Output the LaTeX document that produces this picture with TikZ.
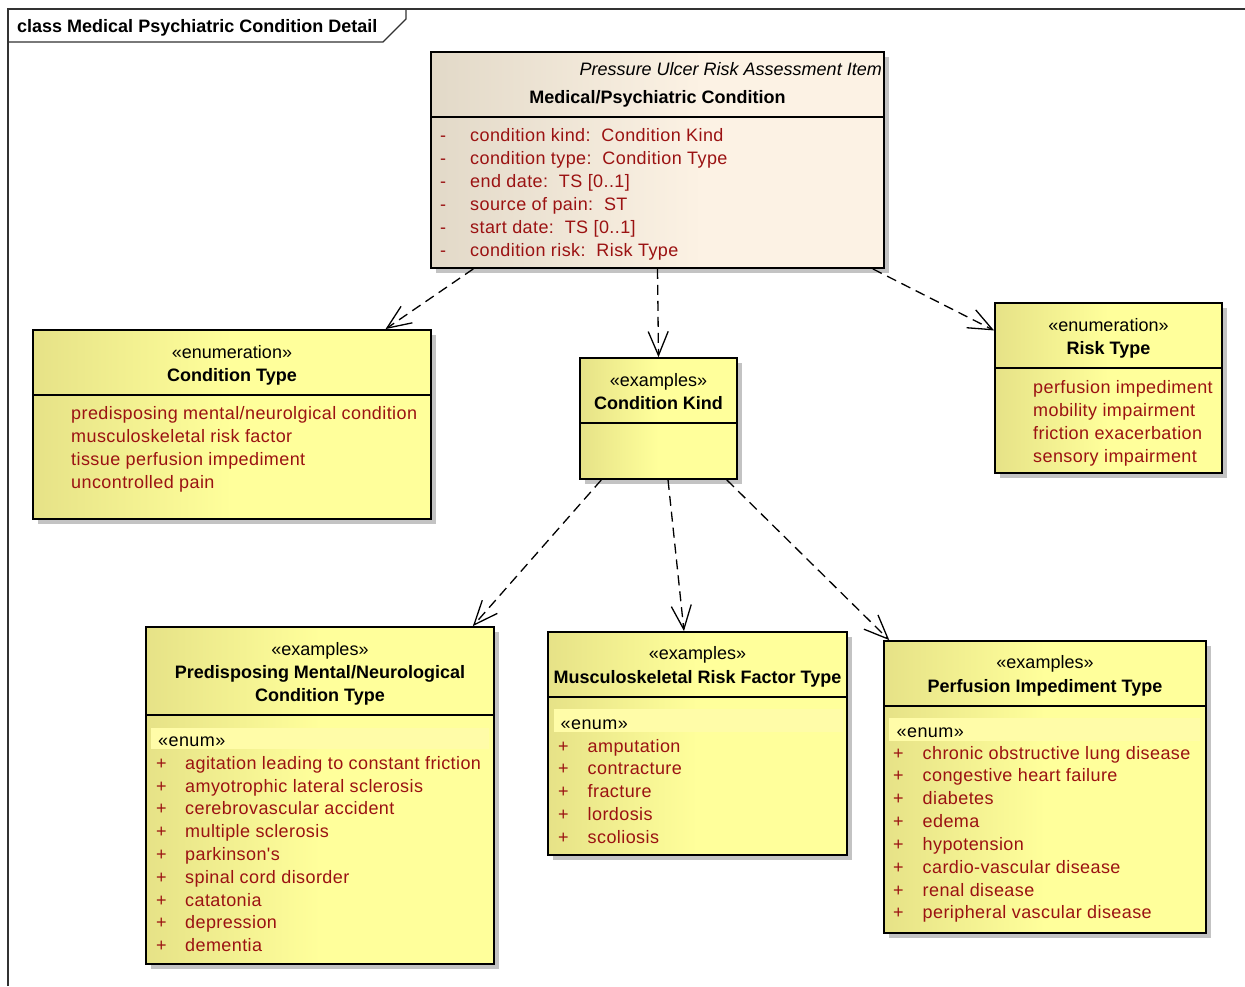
\documentclass[tikz,border=0pt]{standalone}
\usepackage{fontspec}
\setmainfont{Liberation Sans}
\newfontfamily\memfont[LetterSpace=2.3]{Liberation Sans}
\usetikzlibrary{arrows.meta,calc}
\definecolor{memred}{RGB}{155,18,18}
\definecolor{yelL}{RGB}{230,226,135}
\definecolor{yelR}{RGB}{255,255,155}
\definecolor{begL}{RGB}{226,217,200}
\definecolor{begR}{RGB}{252,242,228}
\definecolor{bandY}{RGB}{255,252,168}
\definecolor{shadowgrey}{RGB}{195,195,195}
\definecolor{framegrey}{RGB}{50,50,50}
\pgfdeclarehorizontalshading{eaYellow}{100bp}{color(0bp)=(yelL); color(25bp)=(yelL); color(50bp)=(yelR); color(100bp)=(yelR)}
\pgfdeclarehorizontalshading{eaBeige}{100bp}{color(0bp)=(begL); color(25bp)=(begL); color(55bp)=(begR); color(100bp)=(begR)}
\tikzset{
  umlbox/.style={draw=black, line width=1.8pt, inner sep=0pt, shading=eaYellow, rectangle},
  divider/.style={draw=black, line width=1.8pt},
  shadowbox/.style={fill=shadowgrey},
  band/.style={fill=bandY},
  dep/.style={draw=black, line width=1.3pt, dash pattern=on 10pt off 6pt,
    -{Straight Barb[length=24pt,width=20pt,line width=1.3pt]}},
  frameline/.style={draw=framegrey, line width=1.4pt},
  stereo/.style={inner sep=0pt, anchor=base, font=\fontsize{18}{22}\selectfont, text=black},
  title/.style={inner sep=0pt, anchor=base, font=\fontsize{18}{22}\selectfont\bfseries, text=black},
  mem/.style={inner sep=0pt, anchor=base west, font=\fontsize{18}{22}\memfont, text=memred},
  enumlab/.style={inner sep=0pt, anchor=base west, font=\fontsize{18}{22}\memfont, text=black},
}
\newcommand{\mkbox}[6]{%
  \fill[shadowbox] (#2+5,#3+5) rectangle (#4+5,#5+5);
  \node[umlbox, shading=#6, minimum width={#4-#2}, minimum height={#5-#3}] (#1) at ({(#2+#4)/2},{(#3+#5)/2}) {};
}
\begin{document}
\begin{tikzpicture}[x=1pt,y=-1pt]
\useasboundingbox (0,0) rectangle (1245,986);
\fill[white] (0,0) rectangle (1245,986);

% frame
\draw[frameline] (8,986) -- (8,9) -- (1245,9);
\draw[frameline] (8,42) -- (383,42) -- (406,19) -- (406,9);
\node[inner sep=0pt, anchor=base west, font=\fontsize{18}{22}\selectfont\bfseries] (frametitle) at (17,32) {class Medical Psychiatric Condition Detail};

% --- Main box
\mkbox{main}{431}{52}{884}{268}{eaBeige}
\draw[divider] (431,117) -- (884,117);
\node[inner sep=0pt, anchor=base east, font=\fontsize{18}{22}\selectfont\itshape] (mainster) at (882,75) {Pressure Ulcer Risk Assessment Item};
\node[title] (maintitle) at (657.5,103) {Medical/Psychiatric Condition};
\foreach \t [count=\i from 0] in {condition kind:\ \ Condition Kind, condition type:\ \ Condition Type, end date:\ \ TS [0..1], source of pain:\ \ ST, start date:\ \ TS [0..1], condition risk:\ \ Risk Type}{
  \node[mem] (main-v\i) at (440,141+23*\i) {-};
  \node[mem] (main-a\i) at (470,141+23*\i) {\t};
}

% --- Condition Type
\mkbox{ctype}{33}{330}{431}{519}{eaYellow}
\draw[divider] (33,395) -- (431,395);
\node[stereo] (ctype-s) at (232,358) {«enumeration»};
\node[title] (ctype-t) at (232,381) {Condition Type};
\foreach \t [count=\i from 0] in {predisposing mental/neurolgical condition, musculoskeletal risk factor, tissue perfusion impediment, uncontrolled pain}{
  \node[mem] (ctype-a\i) at (71,419+23*\i) {\t};
}

% --- Condition Kind
\mkbox{ckind}{580}{358}{737}{479}{eaYellow}
\draw[divider] (580,423) -- (737,423);
\node[stereo] (ckind-s) at (658.5,386) {«examples»};
\node[title] (ckind-t) at (658.5,409) {Condition Kind};

% --- Risk Type
\mkbox{risk}{995}{303}{1222}{473}{eaYellow}
\draw[divider] (995,368) -- (1222,368);
\node[stereo] (risk-s) at (1108.5,331) {«enumeration»};
\node[title] (risk-t) at (1108.5,354) {Risk Type};
\foreach \t [count=\i from 0] in {perfusion impediment, mobility impairment, friction exacerbation, sensory impairment}{
  \node[mem] (risk-a\i) at (1033,393+23*\i) {\t};
}

% --- Predisposing
\mkbox{pred}{146}{627}{494}{964}{eaYellow}
\draw[divider] (146,715) -- (494,715);
\node[stereo] (pred-s) at (320,655) {«examples»};
\node[title] (pred-t1) at (320,678) {Predisposing Mental/Neurological};
\node[title] (pred-t2) at (320,701) {Condition Type};
\fill[band] (151,728) rectangle (489,749);
\node[enumlab] (pred-e) at (158,746) {«enum»};
\foreach \t [count=\i from 0] in {agitation leading to constant friction, amyotrophic lateral sclerosis, cerebrovascular accident, multiple sclerosis, parkinson's, spinal cord disorder, catatonia, depression, dementia}{
  \node[mem] (pred-p\i) at (156,769.3+22.8*\i) {+};
  \node[mem] (pred-a\i) at (185,769.3+22.8*\i) {\t};
}

% --- Musculoskeletal
\mkbox{musc}{548}{632}{847}{855}{eaYellow}
\draw[divider] (548,697) -- (847,697);
\node[stereo] (musc-s) at (697.5,659) {«examples»};
\node[title] (musc-t) at (697.5,683) {Musculoskeletal Risk Factor Type};
\fill[band] (554,709) rectangle (843,732);
\node[enumlab] (musc-e) at (560.5,729) {«enum»};
\foreach \t [count=\i from 0] in {amputation, contracture, fracture, lordosis, scoliosis}{
  \node[mem] (musc-p\i) at (558,752+22.75*\i) {+};
  \node[mem] (musc-a\i) at (587.5,752+22.75*\i) {\t};
}

% --- Perfusion
\mkbox{perf}{884}{641}{1206}{933}{eaYellow}
\draw[divider] (884,706) -- (1206,706);
\node[stereo] (perf-s) at (1045,668) {«examples»};
\node[title] (perf-t) at (1045,692) {Perfusion Impediment Type};
\fill[band] (889,718) rectangle (1200,741);
\node[enumlab] (perf-e) at (896.5,737) {«enum»};
\foreach \t [count=\i from 0] in {chronic obstructive lung disease, congestive heart failure, diabetes, edema, hypotension, cardio-vascular disease, renal disease, peripheral vascular disease}{
  \node[mem] (perf-p\i) at (893,759+22.85*\i) {+};
  \node[mem] (perf-a\i) at (922.5,759+22.85*\i) {\t};
}

% connectors
\draw[dep] ($(main.south west)!0.095!(main.south east)$) -- ($(ctype.north west)!0.884!(ctype.north east)$);
\draw[dep] (main.south) -- (ckind.north);
\draw[dep] ($(main.south west)!0.9735!(main.south east)$) -- ($(risk.north west)!0.165!(risk.south west)$);
\draw[dep] ($(ckind.south west)!0.14!(ckind.south east)$) -- ($(pred.north west)!0.937!(pred.north east)$);
\draw[dep] ($(ckind.south west)!0.56!(ckind.south east)$) -- ($(musc.north west)!0.455!(musc.north east)$);
\draw[dep] ($(ckind.south west)!0.93!(ckind.south east)$) -- ($(perf.north west)!0.019!(perf.north east)$);
\end{tikzpicture}
\end{document}
